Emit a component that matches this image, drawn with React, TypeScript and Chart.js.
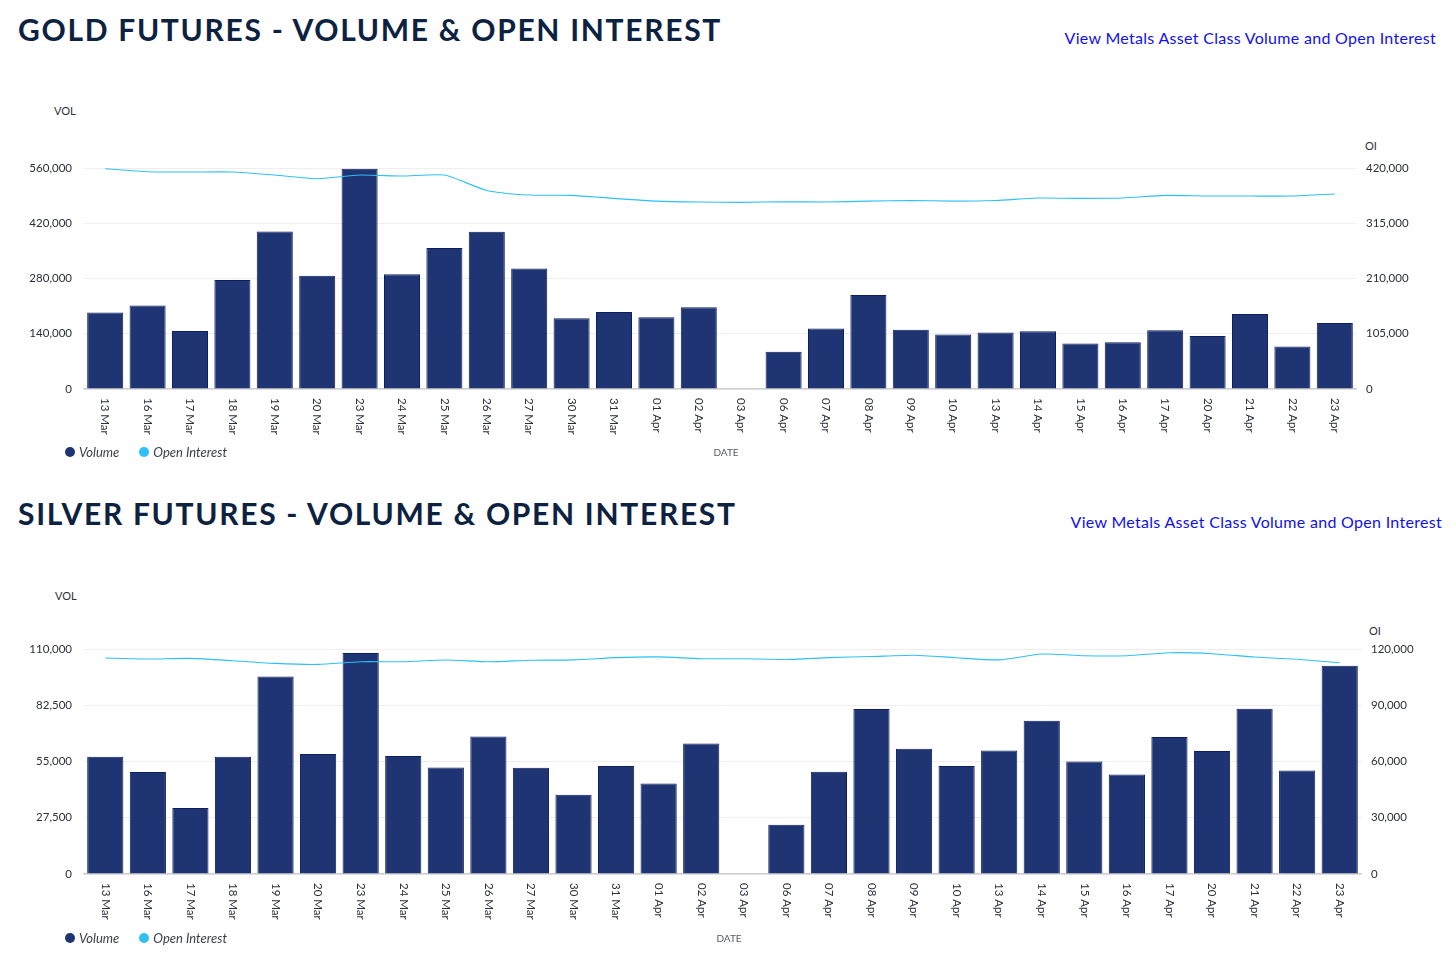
import React, { useEffect, useRef } from "react";
import { Chart, registerables } from "chart.js";

Chart.register(...registerables);

const dates = [
  "13 Mar", "16 Mar", "17 Mar", "18 Mar", "19 Mar", "20 Mar", "23 Mar", "24 Mar", "25 Mar", "26 Mar",
  "27 Mar", "30 Mar", "31 Mar", "01 Apr", "02 Apr", "03 Apr", "06 Apr", "07 Apr", "08 Apr", "09 Apr",
  "10 Apr", "13 Apr", "14 Apr", "15 Apr", "16 Apr", "17 Apr", "20 Apr", "21 Apr", "22 Apr", "23 Apr",
];

const goldVolume = [
  193600, 211300, 147100, 276500, 399100, 286700, 558100, 291000, 357000, 398300,
  305200, 179400, 195300, 181900, 207300, 0, 94600, 153000, 238500, 150400,
  137800, 142900, 146300, 115000, 118400, 148900, 134500, 190300, 107400, 167400,
];

const goldOpenInterest = [
  418500, 413000, 412400, 412400, 406600, 399600, 406600, 404700, 406600, 377400,
  368600, 368000, 362200, 357100, 355300, 354600, 355900, 355300, 357100, 358300,
  357100, 358300, 362900, 362200, 362900, 368000, 366700, 366700, 366700, 370500,
];

const silverVolume = [
  57350, 49870, 32270, 57350, 96600, 58670, 108050, 57690, 52120, 67270,
  51970, 38770, 52800, 44300, 63850, 0, 24100, 50000, 80670, 61260,
  52800, 60430, 74950, 55050, 48700, 66980, 60130, 80820, 50650, 101840,
];

const silverOpenInterest = [
  115200, 114660, 114980, 113750, 112310, 111780, 113220, 113220, 114130, 113200,
  114000, 114200, 115400, 115800, 114800, 114800, 114400, 115400, 116000, 116700,
  115300, 114200, 117300, 116400, 116400, 118000, 117500, 115700, 114500, 112700,
];

const goldVolTicks = { max: 560000, step: 140000 };
const goldOiTicks = { max: 420000, step: 105000 };
const silverVolTicks = { max: 110000, step: 27500 };
const silverOiTicks = { max: 120000, step: 30000 };

const VOL_COLOR = "#1f3473";
const VOL_BORDER = "#0f1f5c";
const OI_COLOR = "#2ec0f5";
const TEXT_COLOR = "#2b2f3a";
const FONT = "Lato, 'Open Sans', sans-serif";

type BlockProps = {
  title: string;
  titleTop: number;
  linkRight: number;
  linkTop: number;
  plotTop: number;
  plotBottom: number;
  plotLeft: number;
  plotRight: number;
  volLabelPos: [number, number];
  oiLabelPos: [number, number];
  dateX: number;
  legendY: number;
  labels: string[];
  vol: number[];
  oi: number[];
  volTicks: { max: number; step: number };
  oiTicks: { max: number; step: number };
};

const PAD_TOP = 20;
const X_AXIS_H = 60;

function ChartBlock(p: BlockProps) {
  const ref = useRef<HTMLCanvasElement | null>(null);

  useEffect(() => {
    if (!ref.current) return;
    const rotatedLabels = {
      id: "rotatedLabels",
      afterDraw(chart: any) {
        const x = chart.scales.x;
        const ctx = chart.ctx;
        ctx.save();
        ctx.fillStyle = TEXT_COLOR;
        ctx.font = `11.5px ${FONT}`;
        ctx.textAlign = "left";
        ctx.textBaseline = "middle";
        p.labels.forEach((lab, i) => {
          const px = x.getPixelForValue(i);
          ctx.save();
          ctx.translate(px, x.top + 9);
          ctx.rotate(Math.PI / 2);
          ctx.fillText(lab, 0, 0);
          ctx.restore();
        });
        ctx.restore();
      },
    };
    const chart = new Chart(ref.current, {
      type: "bar",
      data: {
        labels: p.labels,
        datasets: [
          {
            type: "line",
            label: "Open Interest",
            data: p.oi,
            yAxisID: "y1",
            borderColor: OI_COLOR,
            backgroundColor: OI_COLOR,
            borderWidth: 1.1,
            pointRadius: 0,
            tension: 0.2,
            order: 0,
          } as any,
          {
            type: "bar",
            label: "Volume",
            data: p.vol,
            yAxisID: "y",
            backgroundColor: VOL_COLOR,
            borderColor: VOL_BORDER,
            borderWidth: 1,
            barPercentage: 0.85,
            categoryPercentage: 1,
            order: 1,
          },
        ],
      },
      options: {
        animation: false,
        responsive: false,
        maintainAspectRatio: false,
        layout: { padding: { top: PAD_TOP, bottom: 0, left: 0, right: 0 } },
        plugins: { legend: { display: false }, tooltip: { enabled: false } },
        scales: {
          x: {
            grid: { display: false },
            border: { display: true, color: "#cfcfcf", width: 1.5 },
            ticks: { display: false },
            afterFit(scale: any) {
              scale.height = X_AXIS_H;
            },
          },
          y: {
            position: "left",
            min: 0,
            max: p.volTicks.max,
            ticks: {
              stepSize: p.volTicks.step,
              color: TEXT_COLOR,
              font: { family: FONT, size: 11.5 },
              padding: 12,
            },
            grid: { color: "#eeeeee", drawTicks: false },
            border: { display: false },
            afterFit(scale: any) {
              scale.width = p.plotLeft;
            },
          },
          y1: {
            position: "right",
            min: 0,
            max: p.oiTicks.max,
            ticks: {
              stepSize: p.oiTicks.step,
              color: TEXT_COLOR,
              font: { family: FONT, size: 11.5 },
              padding: 10,
            },
            grid: { display: false, drawTicks: false },
            border: { display: false },
            afterFit(scale: any) {
              scale.width = 1456 - p.plotRight;
            },
          },
        },
      },
      plugins: [rotatedLabels],
    });
    return () => chart.destroy();
  }, []);

  const canvasTop = p.plotTop - PAD_TOP;
  const canvasH = p.plotBottom - p.plotTop + PAD_TOP + X_AXIS_H;

  return (
    <>
      <div
        style={{
          position: "absolute",
          left: 18,
          top: p.titleTop,
          fontFamily: FONT,
          fontWeight: 700,
          fontSize: 30,
          lineHeight: "30px",
          color: "#0d2240",
          whiteSpace: "nowrap",
          letterSpacing: 1.7,
        }}
      >
        {p.title}
      </div>
      <div
        style={{
          position: "absolute",
          right: 1456 - p.linkRight,
          top: p.linkTop,
          fontFamily: FONT,
          fontSize: 16,
          lineHeight: "20px",
          color: "#1010f0",
          whiteSpace: "nowrap",
          letterSpacing: 0.3,
        }}
      >
        View Metals Asset Class Volume and Open Interest
      </div>
      <div
        style={{
          position: "absolute",
          left: p.volLabelPos[0],
          top: p.volLabelPos[1] - 7,
          fontFamily: FONT,
          fontSize: 11,
          lineHeight: "14px",
          color: TEXT_COLOR,
        }}
      >
        VOL
      </div>
      <div
        style={{
          position: "absolute",
          left: p.oiLabelPos[0],
          top: p.oiLabelPos[1] - 7,
          fontFamily: FONT,
          fontSize: 11,
          lineHeight: "14px",
          color: TEXT_COLOR,
        }}
      >
        OI
      </div>
      <canvas
        ref={ref}
        width={1456}
        height={canvasH}
        style={{ position: "absolute", left: 0, top: canvasTop, width: 1456, height: canvasH }}
      />
      <div
        style={{
          position: "absolute",
          left: p.dateX - 40,
          width: 80,
          textAlign: "center",
          top: p.legendY - 7,
          fontFamily: FONT,
          fontSize: 10,
          lineHeight: "14px",
          color: "#555a66",
        }}
      >
        DATE
      </div>
      <div
        style={{
          position: "absolute",
          left: 65,
          top: p.legendY - 8,
          display: "flex",
          alignItems: "center",
          fontFamily: FONT,
          fontStyle: "italic",
          fontSize: 13,
          lineHeight: "16px",
          color: "#3a3f4a",
          whiteSpace: "nowrap",
        }}
      >
        <span style={{ width: 10, height: 10, borderRadius: 5, background: VOL_COLOR, display: "inline-block", marginRight: 4 }} />
        <span style={{ marginRight: 20 }}>Volume</span>
        <span style={{ width: 10, height: 10, borderRadius: 5, background: OI_COLOR, display: "inline-block", marginRight: 4 }} />
        <span>Open Interest</span>
      </div>
    </>
  );
}

export default function App() {
  return (
    <div style={{ position: "absolute", left: 0, top: 0, width: 1456, height: 958, background: "#ffffff", overflow: "hidden" }}>
      <ChartBlock
        title="GOLD FUTURES - VOLUME & OPEN INTEREST"
        titleTop={14}
        linkRight={1436}
        linkTop={28}
        plotTop={168}
        plotBottom={389}
        plotLeft={84}
        plotRight={1356}
        volLabelPos={[54, 111]}
        oiLabelPos={[1365, 146]}
        dateX={726}
        legendY={452}
        labels={dates}
        vol={goldVolume}
        oi={goldOpenInterest}
        volTicks={goldVolTicks}
        oiTicks={goldOiTicks}
      />
      <ChartBlock
        title="SILVER FUTURES - VOLUME & OPEN INTEREST"
        titleTop={498}
        linkRight={1442}
        linkTop={512}
        plotTop={649}
        plotBottom={874}
        plotLeft={84}
        plotRight={1361}
        volLabelPos={[55, 596]}
        oiLabelPos={[1369, 631]}
        dateX={729}
        legendY={938}
        labels={dates}
        vol={silverVolume}
        oi={silverOpenInterest}
        volTicks={silverVolTicks}
        oiTicks={silverOiTicks}
      />
    </div>
  );
}
